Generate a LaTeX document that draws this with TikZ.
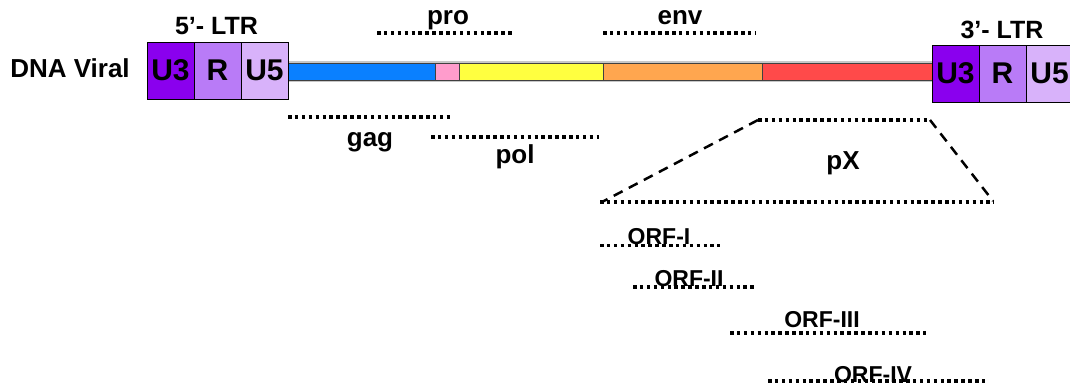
\documentclass[tikz,border=0pt]{standalone}
\usepackage{fontspec}
\setmainfont{Liberation Sans}
\begin{document}
\begin{tikzpicture}[x=1pt,y=-1pt,
  ltrbox/.style={draw=black, line width=0.8pt, minimum width=47pt, minimum height=57pt, inner sep=0pt, font=\bfseries\fontsize{30}{32}\selectfont},
  seg/.style={draw=black!75, line width=0.8pt},
  lbl/.style={inner sep=0pt, anchor=base, font=\bfseries\fontsize{26}{28}\selectfont},
  orflbl/.style={inner sep=0pt, anchor=base, font=\bfseries\fontsize{23}{25}\selectfont},
  ltrlbl/.style={inner sep=0pt, anchor=base, font=\bfseries\fontsize{25}{27}\selectfont},
  dotline/.style={line width=3.5pt, dash pattern=on 3.5pt off 3.4pt},
  dashline/.style={line width=2.5pt, dash pattern=on 10pt off 7pt}]
\definecolor{cu3}{HTML}{8A00EE}
\definecolor{cr}{HTML}{B97BF7}
\definecolor{cu5}{HTML}{D8B2FA}
\definecolor{cblue}{HTML}{0A80FF}
\definecolor{cpink}{HTML}{FF9CCC}
\definecolor{cyel}{HTML}{FFFF40}
\definecolor{corg}{HTML}{FFA64F}
\definecolor{cred}{HTML}{FF4A4A}
\useasboundingbox (0,0) rectangle (1070,387);
% bar
\fill[black!22] (286,61) rectangle (934,82);
\draw[seg, fill=cblue] (288,63) rectangle (435,80);
\draw[seg, fill=cpink] (435,63) rectangle (459,80);
\draw[seg, fill=cyel] (459,63) rectangle (603,80);
\draw[seg, fill=corg] (603,63) rectangle (762,80);
\draw[seg, fill=cred] (762,63) rectangle (932,80);
% 5' LTR
\node[ltrbox, fill=cu3] (u3a) at (170.5,70.5) {U3};
\node[ltrbox, fill=cr] (ra) at (217.5,70.5) {R};
\node[ltrbox, fill=cu5] (u5a) at (264.5,70.5) {U5};
\node[ltrlbl] (ltr5) at (216.5,35) {5’- LTR};
% 3' LTR
\node[ltrbox, fill=cu3] (u3b) at (955.5,73.5) {U3};
\node[ltrbox, fill=cr] (rb) at (1002.5,73.5) {R};
\node[ltrbox, fill=cu5] (u5b) at (1049.5,73.5) {U5};
\node[ltrlbl] (ltr3) at (1002,39) {3’- LTR};
% DNA Viral
\node[inner sep=0pt, anchor=base, font=\bfseries\fontsize{26}{28}\selectfont] (dna) at (70,78) {DNA Viral};
% gene lines
\draw[dotline] (377,33) -- (513,33);
\node[lbl] (pro) at (448,25) {pro};
\draw[dotline] (603,33) -- (756,33);
\node[lbl] (env) at (680,25) {env};
\draw[dotline] (288,117) -- (450,117);
\node[lbl] (gag) at (370,147) {gag};
\draw[dotline] (431,137) -- (599,137);
\node[lbl] (pol) at (515,164) {pol};
% pX
\draw[dotline] (758,120) -- (930,120);
\draw[dashline] (758,120) -- (602,202);
\draw[dashline] (930,120) -- (993,201);
\draw[dotline] (600,202) -- (994,202);
\node[lbl] (px) at (843,170) {pX};
% ORFs
\draw[dotline] (600,245.5) -- (720,245.5);
\node[orflbl] (orf1) at (659,245) {ORF-I};
\draw[dotline] (633,287) -- (754,287);
\node[orflbl] (orf2) at (689,286) {ORF-II};
\draw[dotline] (730,333) -- (926,333);
\node[orflbl] (orf3) at (822,327) {ORF-III};
\draw[dotline] (768,381) -- (985,381);
\node[orflbl] (orf4) at (873,382) {ORF-IV};
\end{tikzpicture}
\end{document}
